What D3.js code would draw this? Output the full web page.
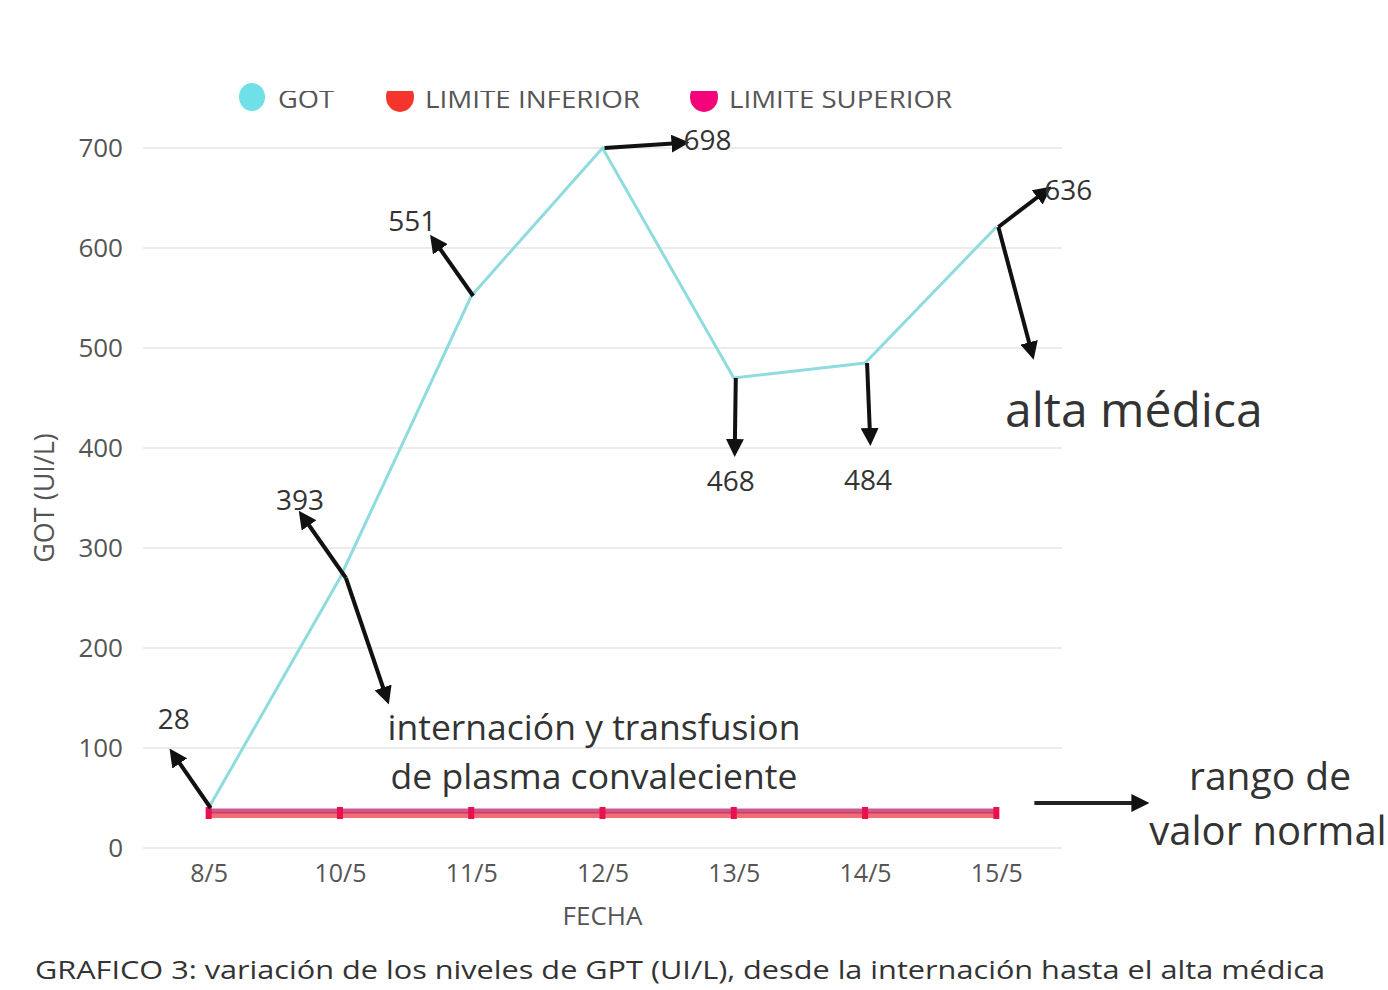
<!DOCTYPE html>
<html>
<head>
<meta charset="utf-8">
<script src="https://cdn.jsdelivr.net/npm/d3@7"></script>
<style>
  body { margin: 0; background: #fff; }
  svg { font-family: "Open Sans", sans-serif; }
</style>
</head>
<body>
<div id="chart"></div>
<script>
var fechas = ["8/5", "10/5", "11/5", "12/5", "13/5", "14/5", "15/5"];
var got = [40, 270, 552, 700, 470, 485, 621];
var limiteInferior = [33, 33, 33, 33, 33, 33, 33];
var limiteSuperior = [37, 37, 37, 37, 37, 37, 37];
var yTicks = [0, 100, 200, 300, 400, 500, 600, 700];
var etiquetas = ["28", "393", "551", "698", "468", "484", "636"];

var width = 1388, height = 990;
var margin = { top: 148, right: 326, bottom: 142, left: 143 };

var svg = d3.select("#chart").append("svg")
    .attr("width", width)
    .attr("height", height);

var x = d3.scalePoint()
    .domain(fechas)
    .range([margin.left, width - margin.right])
    .padding(0.5);

var y = d3.scaleLinear()
    .domain([0, 700])
    .range([height - margin.bottom, margin.top]);

// grid
svg.append("g")
    .selectAll("line")
    .data(yTicks)
    .enter()
    .append("line")
    .attr("x1", margin.left)
    .attr("x2", width - margin.right)
    .attr("y1", d => y(d))
    .attr("y2", d => y(d))
    .attr("stroke", "#ececec")
    .attr("stroke-width", 2);

// y axis
var yAxis = d3.axisLeft(y).tickValues(yTicks).tickSize(0).tickPadding(20);
var gy = svg.append("g")
    .attr("transform", "translate(" + margin.left + ",0)")
    .call(yAxis);
gy.select(".domain").remove();
gy.selectAll("text")
    .attr("font-size", 26)
    .attr("fill", "#555")
    .attr("font-family", "Open Sans");

// x axis
var xAxis = d3.axisBottom(x).tickSize(0).tickPadding(16);
var gx = svg.append("g")
    .attr("transform", "translate(0," + (height - margin.bottom) + ")")
    .call(xAxis);
gx.select(".domain").remove();
gx.selectAll("text")
    .attr("font-size", 25)
    .attr("fill", "#555")
    .attr("font-family", "Open Sans");

svg.append("text")
    .attr("x", x("12/5"))
    .attr("y", 925)
    .attr("text-anchor", "middle")
    .attr("font-size", 26)
    .attr("fill", "#555")
    .text("FECHA");

svg.append("text")
    .attr("transform", "translate(54," + y(350) + ") rotate(-90)")
    .attr("text-anchor", "middle")
    .attr("font-size", 27)
    .attr("fill", "#555")
    .text("GOT (UI/L)");

// limit lines
var lineFn = d3.line()
    .x((d, i) => x(fechas[i]))
    .y(d => y(d));

svg.append("path")
    .datum(limiteInferior)
    .attr("d", lineFn)
    .attr("fill", "none")
    .attr("stroke", "#f0525a")
    .attr("stroke-opacity", 0.85)
    .attr("stroke-width", 6);

svg.append("path")
    .datum(limiteSuperior)
    .attr("d", lineFn)
    .attr("fill", "none")
    .attr("stroke", "#c0306e")
    .attr("stroke-opacity", 0.8)
    .attr("stroke-width", 5);

svg.append("g")
    .selectAll("rect")
    .data(limiteSuperior)
    .enter()
    .append("rect")
    .attr("x", (d, i) => x(fechas[i]) - 3)
    .attr("y", d => y(d) - 4)
    .attr("width", 6)
    .attr("height", 12)
    .attr("fill", "#e8104f");

// GOT line
svg.append("path")
    .datum(got)
    .attr("d", lineFn)
    .attr("fill", "none")
    .attr("stroke", "#8edcdf")
    .attr("stroke-width", 3);

// legend
var legend = svg.append("g");
var defs = svg.append("defs");
defs.append("clipPath").attr("id", "legclip")
    .append("rect").attr("x", 0).attr("y", 91).attr("width", width).attr("height", 40);

legend.append("ellipse")
    .attr("cx", 252).attr("cy", 97).attr("rx", 13).attr("ry", 14)
    .attr("fill", "#6fe0e8");

var legItems = [
    { name: "GOT", x: 278, w: 56 },
    { name: "LIMITE INFERIOR", x: 425, w: 215, color: "#f5342c", mx: 400 },
    { name: "LIMITE SUPERIOR", x: 729, w: 223, color: "#f4047a", mx: 704 }
];
var lg = legend.append("g").attr("clip-path", "url(#legclip)");
legItems.forEach(function(d) {
    if (d.color) {
        lg.append("ellipse")
            .attr("cx", d.mx).attr("cy", 97).attr("rx", 14).attr("ry", 15)
            .attr("fill", d.color);
    }
    lg.append("text")
        .attr("x", d.x)
        .attr("y", 108)
        .attr("font-size", 26)
        .attr("fill", "#555")
        .attr("textLength", d.w)
        .attr("lengthAdjust", "spacingAndGlyphs")
        .text(d.name);
});

// arrows
defs.append("marker")
    .attr("id", "head")
    .attr("viewBox", "0 0 10 10")
    .attr("refX", 5).attr("refY", 5)
    .attr("markerWidth", 4.5).attr("markerHeight", 4.5)
    .attr("orient", "auto")
    .append("path")
    .attr("d", "M0,0 L10,5 L0,10 z")
    .attr("fill", "#111");

// arrows start at a data point and end at an offset (dx, dy) in pixels
var flechas = [
    { i: 0, v: got[0], dx: -36, dy: -52 },
    { i: 1, v: got[1], dx: -42, dy: -60 },
    { i: 1, v: got[1], dx: 40, dy: 118 },
    { i: 2, v: got[2], dx: -38, dy: -54 },
    { i: 3, v: got[3], dx: 76, dy: -5 },
    { i: 4, v: got[4], dx: -1, dy: 70 },
    { i: 5, v: got[5], dx: 3, dy: 74 },
    { i: 6, v: got[6], dx: 46, dy: -35 },
    { i: 6, v: got[6], dx: 33, dy: 124 }
];
svg.append("g")
    .selectAll("line")
    .data(flechas)
    .enter()
    .append("line")
    .attr("x1", d => x(fechas[d.i]) + (d.i === 1 ? 6 : 2))
    .attr("y1", d => y(d.v))
    .attr("x2", d => x(fechas[d.i]) + (d.i === 1 ? 6 : 2) + d.dx)
    .attr("y2", d => y(d.v) + d.dy)
    .attr("stroke", "#111")
    .attr("stroke-width", 4)
    .attr("marker-end", "url(#head)");

svg.append("line")
    .attr("x1", x("15/5") + 38)
    .attr("x2", x("15/5") + 144)
    .attr("y1", y(limiteSuperior[6]) - 8)
    .attr("y2", y(limiteSuperior[6]) - 8)
    .attr("stroke", "#222")
    .attr("stroke-width", 4)
    .attr("marker-end", "url(#head)");

// value labels
var labelPos = [
    { dx: -35, dy: -86 }, { dx: -40, dy: -75 }, { dx: -59, dy: -72 },
    { dx: 105, dy: -5 }, { dx: -3, dy: 106 }, { dx: 3, dy: 120 }, { dx: 72, dy: -34 }
];
svg.append("g")
    .selectAll("text")
    .data(etiquetas)
    .enter()
    .append("text")
    .attr("x", (d, i) => x(fechas[i]) + labelPos[i].dx)
    .attr("y", (d, i) => y(got[i]) + labelPos[i].dy)
    .attr("text-anchor", "middle")
    .attr("dominant-baseline", "middle")
    .attr("font-size", 28)
    .attr("fill", "#333")
    .text(d => d);

// notes
svg.append("text")
    .attr("x", 1005).attr("y", 427)
    .attr("font-size", 48).attr("fill", "#333")
    .text("alta médica");

svg.append("text")
    .attr("x", 1270).attr("y", 790)
    .attr("text-anchor", "middle")
    .attr("font-size", 39).attr("fill", "#333")
    .text("rango de");
svg.append("text")
    .attr("x", 1268).attr("y", 845)
    .attr("text-anchor", "middle")
    .attr("font-size", 40).attr("fill", "#333")
    .text("valor normal");

svg.append("text")
    .attr("x", 594).attr("y", 740)
    .attr("text-anchor", "middle")
    .attr("font-size", 35.5).attr("fill", "#333")
    .text("internación y transfusion");
svg.append("text")
    .attr("x", 594).attr("y", 789)
    .attr("text-anchor", "middle")
    .attr("font-size", 35.5).attr("fill", "#333")
    .text("de plasma convaleciente");

svg.append("text")
    .attr("x", 35).attr("y", 979)
    .attr("font-size", 25).attr("fill", "#333")
    .attr("textLength", 1290)
    .attr("lengthAdjust", "spacingAndGlyphs")
    .text("GRAFICO 3: variación de los niveles de GPT (UI/L), desde la internación hasta el alta médica");
</script>
</body>
</html>
